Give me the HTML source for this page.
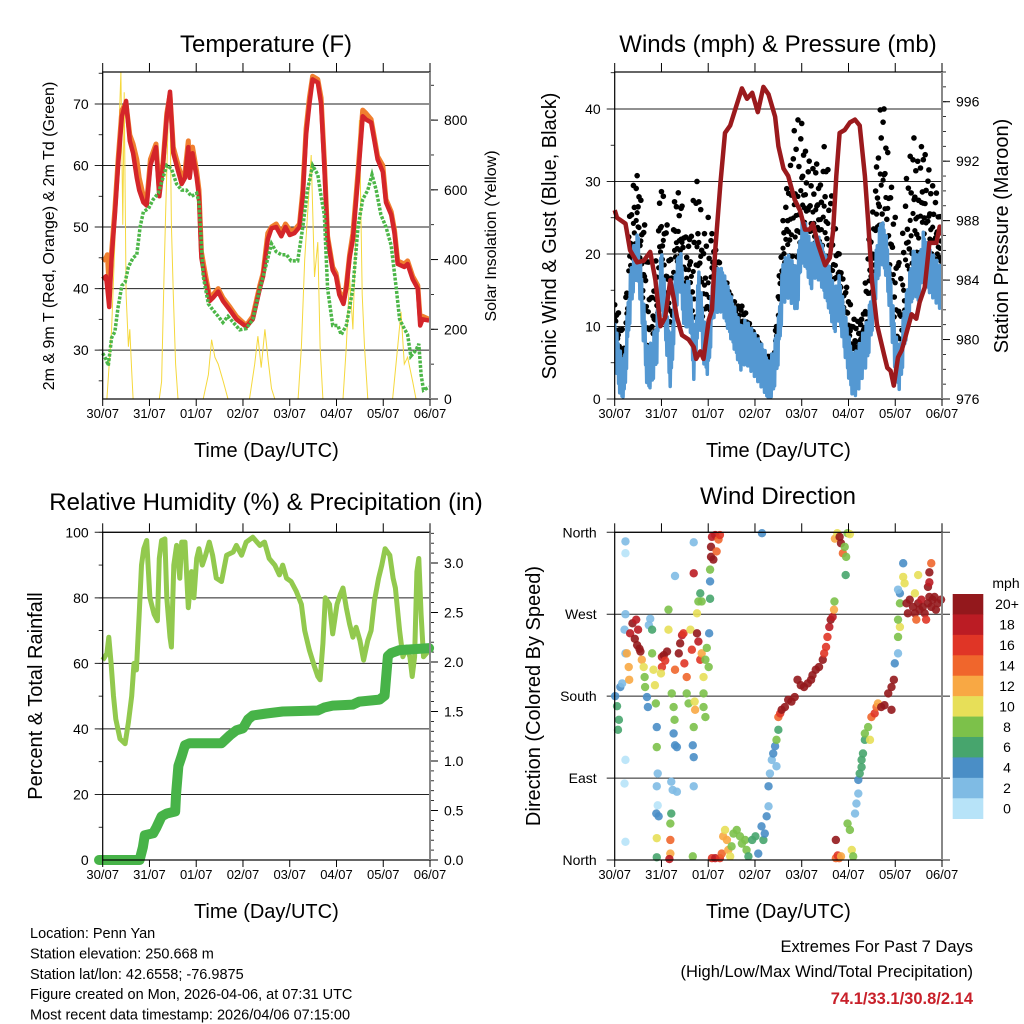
<!DOCTYPE html>
<html><head><meta charset="utf-8">
<style>
html,body{margin:0;padding:0;background:#fff;}
svg{display:block;font-family:"Liberation Sans",Arial,sans-serif;}
</style></head>
<body>
<svg id="chart" width="1024" height="1024" viewBox="0 0 1024 1024" xmlns="http://www.w3.org/2000/svg">
<rect width="1024" height="1024" fill="#fff"/>
</svg>
<script>
// ===== Data (time in days since 30/07 00 UTC) =====
const dayLabels = ["30/07","31/07","01/07","02/07","03/07","04/07","05/07","06/07"];
const tempTicks = [30,40,50,60,70];
const solarTicks = [0,200,400,600,800];
const windTicks = [0,10,20,30,40];
const presTicks = [976,980,984,988,992,996];
const rhTicks = [0,20,40,60,80,100];
const rainTicks = [0.0,0.5,1.0,1.5,2.0,2.5,3.0];
const dirLabels = ["North","East","South","West","North"];
const dirTicks = [0,90,180,270,360];
const spdLabels = ["0","2","4","6","8","10","12","14","16","18","20+"];
const spdColors = ["#b7e3f8","#7fbbe4","#4a8ec6","#47a56d","#7cc14a","#e7df58","#f8a844","#f0662c","#e03526","#bb1c24","#93181c"];

const tDays = [0,0.07,0.10,0.14,0.19,0.26,0.33,0.41,0.50,0.58,0.65,0.73,0.78,0.87,0.94,1.02,1.14,1.21,1.29,1.37,1.44,1.51,1.58,1.69,1.76,1.83,1.86,1.92,2.01,2.06,2.11,2.18,2.29,2.36,2.47,2.57,2.72,2.86,3.07,3.21,3.36,3.43,3.53,3.61,3.71,3.82,3.91,4.00,4.10,4.21,4.28,4.35,4.42,4.49,4.60,4.67,4.74,4.81,4.92,4.99,5.06,5.15,5.21,5.28,5.35,5.46,5.56,5.63,5.74,5.81,5.88,5.99,6.06,6.17,6.24,6.31,6.45,6.52,6.63,6.74,6.79,6.84,6.98];
const tRed = [41.5,42,40,37,45,52,60,68,70.5,64,62,58,56,54,53.5,60,63,55,60,68,72,62,60,57,58,63,58,62,58,55,45,42,38,38.5,39.5,38,36.5,35,33.8,35,40,42,48,49.8,50,48.5,50,48.7,49,50,55,65,70,74,73.5,70,60,48,43,42,39,37.5,40,45,48,58,68,67.5,67,64,61,59,54,52,49,44,43.5,44,41.5,40,34,35,34.8];
const tOrange = [44.5,45,45.5,40,46,53,61,69,70,65,63.5,61,58,55,54,61,63.5,56,60.5,68.5,71.5,63,61,58,59,64,59,63,59,56,46,43,38.5,39,40,38.5,37,35.5,34,35.5,40.5,42.5,49,50,50.5,49,50.5,49.5,49.5,50.5,56,66,71,74.5,74,71,61,48.5,43.5,42.5,39.5,38,40.5,45.5,49,59,69,68.5,67.5,64.5,61.5,60,54.5,52.5,49.5,44.5,44,44.5,42,40.5,35,35.5,35];
const tdDays = [0,0.07,0.12,0.19,0.26,0.33,0.41,0.48,0.55,0.65,0.73,0.80,0.87,0.98,1.08,1.19,1.29,1.37,1.47,1.58,1.69,1.79,1.90,2.01,2.06,2.15,2.26,2.36,2.47,2.57,2.68,2.79,2.93,3.07,3.21,3.36,3.50,3.61,3.71,3.82,3.93,4.03,4.17,4.28,4.38,4.49,4.60,4.67,4.74,4.81,4.92,5.03,5.10,5.21,5.35,5.46,5.56,5.67,5.76,5.85,5.95,6.06,6.17,6.28,6.35,6.45,6.52,6.59,6.70,6.76,6.81,6.86,6.98];
const tDew = [29.5,28.5,27.5,32,33,37,40.5,41,43.5,45,45.5,50,52.5,53,54.5,55.5,58,60,59.5,57,56,56,55,55.5,54,42,37.5,36.5,35.5,34.5,35.5,34.5,33.3,33.5,35,40,44,47.3,46,45.5,45.5,44.5,44.5,50,56,60,58.5,55,52,40,34,34,32.5,34,40,50,54.5,56,58.5,56,52,50,47,40,35,33.5,32.5,29,30,31,26,23.5,24];
const solDays = [0.09,0.14,0.19,0.26,0.33,0.39,0.43,0.46,0.50,0.55,0.58,0.62,0.65,1.21,1.26,1.31,1.35,1.40,1.44,1.47,1.51,1.56,1.61,2.15,2.26,2.33,2.40,2.47,2.58,2.68,3.14,3.25,3.32,3.39,3.47,3.54,3.61,3.68,4.18,4.25,4.32,4.39,4.46,4.53,4.60,4.65,4.71,5.14,5.21,5.28,5.35,5.42,5.49,5.55,5.60,5.67,6.20,6.31,6.38,6.45,6.52,6.63,6.70];
const solVals = [0,100,200,450,700,938,500,880,300,150,200,80,0,0,50,350,550,800,850,500,300,100,0,0,70,170,120,100,50,0,0,100,180,90,200,110,30,0,0,150,400,550,700,350,450,150,0,0,150,350,200,500,800,300,150,0,0,150,250,100,120,50,0];

const wDays = [0,0.1,0.2,0.3,0.4,0.5,0.6,0.7,0.8,0.9,1.0,1.1,1.2,1.3,1.4,1.5,1.6,1.7,1.8,1.9,2.0,2.1,2.2,2.3,2.4,2.5,2.6,2.7,2.8,2.9,3.0,3.1,3.2,3.3,3.4,3.5,3.6,3.7,3.8,3.9,4.0,4.1,4.2,4.3,4.4,4.5,4.6,4.7,4.8,4.9,5.0,5.1,5.2,5.3,5.4,5.5,5.6,5.7,5.8,5.9,6.0,6.1,6.2,6.3,6.4,6.5,6.6,6.7,6.8,6.9,7.0];
const windSonic = [8,4,2,12,18,20,12,4,5,8,18,10,4,15,18,12,14,5,15,8,6,14,15,15,13,11,9,7,8,7,6,5,4,2,4,8,16,17,16,15,22,21,18,20,19,17,15,12,14,10,6,3,4,6,8,12,18,22,20,14,6,4,10,14,18,16,20,18,17,16,15];
const windGust = [13,12,8,24,30,31,26,21,14,21,31,25,20,29,29,23,22,30,30,22,26,22,20,17,16,14,13,13,12,10,9,8,6,6,6,15,25,30,35,40,38,34,32,33,30,36,30,25,20,16,15,11,11,11,20,25,32,43,38,30,26,17,28,34,36,33,36,32,30,28,24];
const pDays = [0,0.05,0.23,0.33,0.48,0.62,0.76,0.87,0.98,1.08,1.19,1.26,1.33,1.44,1.58,1.69,1.74,1.83,1.90,2.01,2.08,2.15,2.26,2.36,2.47,2.58,2.72,2.83,2.94,3.06,3.18,3.29,3.43,3.50,3.61,3.71,3.85,3.96,4.07,4.17,4.24,4.35,4.50,4.60,4.67,4.74,4.81,4.92,5.03,5.14,5.24,5.35,5.42,5.50,5.61,5.76,5.83,5.90,5.97,6.06,6.14,6.35,6.45,6.52,6.63,6.73,6.88,6.95,6.98];
const pressure = [988.7,988.2,987.8,986,985.2,985.3,985.9,984,980.9,981.5,984,982.8,981.5,980.3,980,979.5,978.7,979.2,978.7,981.3,982,986,990.5,993.9,994.4,995.5,996.9,996.2,996.6,995.3,997,996.5,995,993,991.5,991,989.4,988.7,987.4,987.4,987.8,986.4,985,985.5,987.3,991,993.9,994.1,994.6,994.8,994.4,991,988,984,981,979,978.1,977.9,976.9,978.8,979.3,981.7,981.4,982.5,983.5,986.5,986.5,987.6,987];

const rhDays = [0,0.09,0.13,0.18,0.23,0.28,0.37,0.48,0.55,0.62,0.67,0.72,0.78,0.83,0.88,0.94,1.01,1.10,1.17,1.21,1.26,1.33,1.37,1.44,1.47,1.52,1.58,1.65,1.69,1.76,1.83,1.90,1.95,2.01,2.06,2.13,2.20,2.28,2.35,2.43,2.54,2.65,2.79,2.86,2.97,3.07,3.21,3.36,3.46,3.56,3.68,3.78,3.85,3.93,4.03,4.14,4.25,4.32,4.42,4.53,4.60,4.65,4.71,4.76,4.85,4.92,5.01,5.08,5.14,5.21,5.28,5.35,5.42,5.50,5.58,5.67,5.74,5.81,5.90,5.97,6.04,6.14,6.21,6.26,6.35,6.42,6.50,6.57,6.62,6.67,6.72,6.76,6.81,6.86,6.98];
const rh = [61,63,68,60,50,43,37,35.5,42,50,60,58,75,90,95,97.5,80,75,73,92,97.5,98,80,68,65,90,96,86,97,97,77,88,80,92,95,90,93,97,93,86,85,93,94,96,93,97,98.5,96,97,92,90,87,90,86,85,82,78,70,64,59,56,55,66,80,78,69,78,81,83,77,72,68,71,67,61,67,70,79,86,90,95,93,86,83,70,62,65,62,56,62,88,92,75,62,64];
const rainDays = [-0.08,0.79,0.86,0.90,1.08,1.15,1.26,1.37,1.55,1.57,1.62,1.69,1.76,1.86,2.54,2.72,2.86,3.00,3.11,3.21,3.50,3.85,4.60,4.74,4.92,5.35,5.49,5.92,6.03,6.10,6.17,6.35,6.98];
const rain = [0,0,0.13,0.25,0.27,0.33,0.44,0.47,0.49,0.67,0.95,1.05,1.16,1.18,1.18,1.26,1.31,1.33,1.42,1.46,1.48,1.50,1.51,1.54,1.56,1.57,1.60,1.62,1.66,2.06,2.09,2.12,2.14];

const dirDay = [0.01,0.05,0.09,0.07,0.12,0.16,0.23,0.23,0.21,0.23,0.21,0.23,0.23,0.23,0.26,0.30,0.31,0.33,0.38,0.43,0.48,0.53,0.46,0.50,0.55,0.58,0.62,0.64,0.65,0.69,0.71,0.73,0.76,0.80,0.80,0.83,0.86,0.88,0.90,0.90,0.92,0.90,0.92,0.89,0.94,0.90,0.90,1.01,1.05,1.08,1.12,1.01,0.99,1.15,1.15,1.19,1.21,1.19,1.19,1.17,1.22,1.26,1.28,1.29,1.26,1.29,1.21,1.24,1.29,1.33,1.33,1.37,1.40,1.44,1.47,1.49,1.54,1.54,1.58,1.62,1.65,1.69,1.67,1.69,1.69,1.67,1.69,1.69,1.71,1.72,1.76,1.79,1.83,1.86,1.90,1.90,1.94,1.97,2.01,2.02,1.90,1.94,1.76,1.79,1.83,1.86,2.04,2.04,2.04,2.06,2.06,2.08,2.15,2.22,2.25,2.11,2.18,
2.08,2.15,2.25,2.29,2.32,2.36,2.40,2.43,2.47,2.50,2.54,2.61,2.68,2.72,2.79,2.82,2.86,2.94,3.01,3.07,3.14,3.18,3.21,3.25,3.15,3.29,3.29,3.32,3.36,3.39,3.43,3.46,3.46,3.50,3.50,3.54,3.57,3.64,3.71,3.78,3.85,3.91,3.98,4.05,4.13,4.20,4.23,4.30,4.37,4.45,4.48,4.52,4.55,4.59,4.62,4.66,4.69,4.70,4.71,4.76,4.81,4.84,4.88,4.92,4.95,4.94,4.98,5.03,4.73,4.80,4.77,4.73,4.84,4.98,5.03,5.07,5.10,5.14,5.17,5.21,5.21,5.24,5.28,5.28,5.31,5.35,5.35,5.42,5.46,5.49,5.56,5.60,5.63,5.70,5.77,5.85,5.92,5.97,5.92,5.99,6.06,6.06,6.10,6.06,6.10,6.10,6.06,6.17,6.17,6.20,6.24,6.27,6.31,6.38,6.42,6.45,6.49,6.52,6.56,6.59,6.63,6.66,6.70,6.73,6.77,6.80,6.84,6.87,6.91,6.98,6.73,6.77,6.49,6.42,6.70,6.73];
const dirDeg = [180,169,154,143,190,194,227,270,253,110,84,20,337,350,227,212,198,249,260,243,236,232,264,253,229,220,212,201,190,179,168,258,265,253,227,209,192,172,146,124,95,81,60,51,48,24,3,223,225,219,229,212,205,253,275,40,51,22,7,1,183,168,154,209,139,126,86,77,312,124,75,227,238,247,249,216,201,183,172,253,231,146,126,113,81,4,315,349,174,165,249,240,220,227,201,183,220,233,212,249,168,157,271,284,293,284,306,287,319,344,333,355,357,352,357,330,339,
2,2,2,7,26,33,22,11,4,15,29,33,26,18,22,11,4,22,26,7,37,22,29,48,359,59,81,95,110,117,125,103,132,143,157,161,165,168,176,174,179,198,192,190,194,198,203,209,212,220,227,234,245,256,264,267,275,284,353,359,355,348,337,344,333,313,359,358,2,2,5,22,4,40,33,11,4,51,62,73,88,95,102,110,117,132,139,146,132,157,161,168,172,168,170,183,190,198,165,216,227,245,256,264,282,293,297,326,311,304,282,271,286,278,271,264,282,275,286,278,271,264,282,289,278,286,289,275,282,286,316,326,313,293,300,305];
const dirSpd = [5,6,6,6,4,3,2,3,2,1,1,1,0,2,12,13,12,19,20,20,20,20,18,18,20,12,10,8,8,5,5,3,3,6,8,10,10,8,4,8,2,3,1,4,4,10,6,19,20,17,20,16,10,10,8,8,6,14,12,18,8,8,8,14,4,4,3,3,2,4,3,20,20,18,16,16,14,8,8,10,16,8,4,4,2,8,18,2,10,12,20,18,16,12,10,8,8,8,8,4,8,8,10,8,6,8,4,6,8,20,20,18,18,14,16,20,14,
16,18,16,14,12,10,12,12,10,8,8,8,8,8,8,8,6,6,6,4,4,6,4,4,4,2,4,2,2,4,4,2,8,6,14,16,20,20,20,20,20,20,20,20,20,20,20,20,20,20,16,16,16,18,20,18,12,8,12,10,20,20,14,8,8,6,8,10,14,14,16,20,12,8,8,10,8,2,2,2,4,6,6,6,6,6,8,8,10,14,16,14,12,20,20,20,20,20,20,4,2,8,10,8,8,4,2,4,10,10,20,20,20,20,20,14,20,20,18,20,20,16,20,20,20,20,20,20,20,20,20,14,10,10,20,18];

// ===== Helpers =====
const NS = "http://www.w3.org/2000/svg";
const svg = document.getElementById("chart");
function mk(tag, attrs, parent){
  const e = document.createElementNS(NS, tag);
  for (const k in attrs) e.setAttribute(k, attrs[k]);
  (parent||svg).appendChild(e);
  return e;
}
function txt(s, x, y, size, anchor, parent, extra){
  const t = mk("text", Object.assign({x:x, y:y, "font-size":size, "text-anchor":anchor||"middle", fill:"#000"}, extra||{}), parent);
  t.textContent = s;
  return t;
}
function linScale(d0,d1,r0,r1){ return v => r0 + (v-d0)/(d1-d0)*(r1-r0); }

function panel(name, x0, y0, w, h){
  const g = mk("g", {});
  
  
  return {g, x0, y0, w, h, x: linScale(0,7,x0,x0+w)};
}
function frame(p){
  const f = mk("rect",{x:p.x0,y:p.y0,width:p.w,height:p.h,fill:"none",stroke:"#000","stroke-width":1.2}, p.g);
  
  
  const rr = mk("line",{x1:p.x0+p.w,y1:p.y0,x2:p.x0+p.w,y2:p.y0+p.h,stroke:"#888","stroke-width":2}, p.g);
  
  
}
function xAxis(p){
  const ax = mk("g",{}, p.g);
  
  
  dayLabels.forEach((lab,i)=>{
    const xx = p.x(i);
    mk("line",{x1:xx,y1:p.y0,x2:xx,y2:p.y0-9,stroke:"#000","stroke-width":1}, ax);
    mk("line",{x1:xx,y1:p.y0+p.h,x2:xx,y2:p.y0+p.h+7,stroke:"#000","stroke-width":1}, ax);
    const t = txt(lab, xx, p.y0+p.h+19, 13, "middle", ax);
    
    
  });
  const tt = txt("Time (Day/UTC)", p.x0+p.w/2, p.y0+p.h+58, 20, "middle", p.g);
  
  
}
function leftAxis(p, ys, ticks, fmt, grid, minorStep, dmin, dmax){
  const ax = mk("g",{}, p.g);
  
  
  if (minorStep){
    for (let v=Math.ceil(dmin/minorStep)*minorStep; v<=dmax+1e-9; v+=minorStep){
      mk("line",{x1:p.x0,y1:ys(v),x2:p.x0-4,y2:ys(v),stroke:"#000","stroke-width":0.8}, ax);
    }
  }
  ticks.forEach(v=>{
    const yy = ys(v);
    if (grid) mk("line",{x1:p.x0-8,y1:yy,x2:p.x0+p.w,y2:yy,stroke:"#222","stroke-width":1}, ax);
    const t = txt(fmt(v), p.x0-14, yy+5, 14, "end", ax);
    
    
  });
}
function rightAxis(p, ys, ticks, fmt, minorStep, dmin, dmax){
  const ax = mk("g",{}, p.g);
  
  
  const xr = p.x0+p.w;
  if (minorStep){
    for (let v=Math.ceil(dmin/minorStep)*minorStep; v<=dmax+1e-9; v+=minorStep){
      mk("line",{x1:xr,y1:ys(v),x2:xr+4,y2:ys(v),stroke:"#000","stroke-width":0.8}, ax);
    }
  }
  ticks.forEach(v=>{
    const yy = ys(v);
    mk("line",{x1:xr,y1:yy,x2:xr+8,y2:yy,stroke:"#000","stroke-width":1}, ax);
    const t = txt(fmt(v), xr+14, yy+5, 14, "start", ax);
    
    
  });
}
function vtitle(s, x, y, size, parent, name){
  const t = txt(s, 0, 0, size, "middle", parent, {transform:`translate(${x},${y}) rotate(-90)`});
  
  
}
function pathD(xs, ys, xf, yf){
  return xs.map((d,i)=>(i?"L":"M")+xf(d).toFixed(1)+","+yf(ys[i]).toFixed(1)).join("");
}
function interp(xs, vs, d){
  if (d<=xs[0]) return vs[0];
  for (let i=1;i<xs.length;i++){ if (d<=xs[i]){ const f=(d-xs[i-1])/(xs[i]-xs[i-1]); return vs[i-1]+f*(vs[i]-vs[i-1]); } }
  return vs[vs.length-1];
}

// ===== Titles =====
[["Temperature (F)",266,52],["Winds (mph) & Pressure (mb)",778,52],["Relative Humidity (%) & Precipitation (in)",266,510],["Wind Direction",778,504]].forEach((a,i)=>{
  const t = txt(a[0], a[1], a[2], 24, "middle");
  
  
});

// ===== Panel 1: Temperature =====
(function(){
  const p = panel("temperature-panel", 102.7, 72, 327.3, 327);
  const yT = linScale(22.05, 75.2, 399, 72);
  const yS = linScale(0, 938, 399, 72);
  leftAxis(p, yT, tempTicks, v=>String(v), true, 5, 22.05, 75.2);
  rightAxis(p, yS, solarTicks, v=>String(v), 100, 0, 938);
  const clip = mk("clipPath",{id:"c1"}, p.g); mk("rect",{x:p.x0,y:p.y0,width:p.w,height:p.h}, clip);
  const s = mk("path",{d:pathD(solDays, solVals, p.x, yS), fill:"none", stroke:"#f5d83c","stroke-width":1, "clip-path":"url(#c1)"}, p.g);
  
  
  const o = mk("path",{d:pathD(tDays, tOrange, p.x, yT), fill:"none", stroke:"#f07f2f","stroke-width":5,"stroke-linejoin":"round"}, p.g);
  
  
  const r = mk("path",{d:pathD(tDays, tRed, p.x, yT), fill:"none", stroke:"#d4252a","stroke-width":4.5,"stroke-linejoin":"round"}, p.g);
  
  
  const gd = mk("path",{d:pathD(tdDays, tDew, p.x, yT), fill:"none", stroke:"#4cb648","stroke-width":3.5,"stroke-dasharray":"3 1.5"}, p.g);
  
  
  frame(p); xAxis(p);
  vtitle("2m & 9m T (Red, Orange) & 2m Td (Green)", 54, 236, 16, p.g, "temperature-y-title");
  vtitle("Solar Insolation (Yellow)", 496, 236, 16, p.g, "solar-y-title");
})();

// ===== Panel 2: Winds =====
(function(){
  const p = panel("winds-panel", 614.7, 72, 327.3, 327);
  const yW = linScale(0, 45.1, 399, 72);
  const yP = linScale(976, 998, 399, 72);
  leftAxis(p, yW, windTicks, v=>String(v), true, 5, 0, 45.1);
  rightAxis(p, yP, presTicks, v=>String(v), 1, 976, 998);
  const clip = mk("clipPath",{id:"c2"}, p.g); mk("rect",{x:p.x0,y:p.y0,width:p.w,height:p.h}, clip);
  const gg = mk("g",{"clip-path":"url(#c2)"}, p.g);
  
  
  // gust cloud: dots scattered between sonic speed and gust max
  let k = 0;
  for (let d=0; d<=7; d+=0.02){
    const top = interp(wDays, windGust, d), bot = interp(wDays, windSonic, d)+1;
    const frac = [1,0.55,0.8,0.3,0.95,0.65,0.15,0.85][k%8];
    k++;
    const c = mk("circle",{cx:p.x(d), cy:yW(bot+(top-bot)*frac), r:2.8, fill:"#000"}, gg);
    
    
    const c2 = mk("circle",{cx:p.x(d), cy:yW(bot+(top-bot)*frac*0.5), r:2.6, fill:"#000"}, gg);
    
    
  }
  // sonic wind: jagged band around the series
  let dd = "", j = 0;
  for (let d=0; d<=7.0001; d+=0.012){
    const v = interp(wDays, windSonic, d) + [2.5,-2.5,1,-3,3,-1][j%6];
    j++;
    dd += (dd ? "L" : "M") + p.x(d).toFixed(1) + "," + yW(Math.max(0.3,v)).toFixed(1);
  }
  const bl = mk("path",{d:dd, fill:"none", stroke:"#5498d2","stroke-width":3.5,"stroke-linejoin":"round","clip-path":"url(#c2)"}, p.g);
  
  
  const pr = mk("path",{d:pathD(pDays, pressure, p.x, yP), fill:"none", stroke:"#9b1a1d","stroke-width":4.5,"stroke-linejoin":"round"}, p.g);
  
  
  frame(p); xAxis(p);
  vtitle("Sonic Wind & Gust (Blue, Black)", 556, 236, 20, p.g, "wind-y-title");
  vtitle("Station Pressure (Maroon)", 1008, 236, 20, p.g, "pressure-y-title");
})();

// ===== Panel 3: RH & rain =====
(function(){
  const p = panel("humidity-panel", 102.7, 532.3, 327.3, 327.7);
  const yR = linScale(0, 100, 860, 532.3);
  const yIn = linScale(0, 3.31, 860, 532.3);
  leftAxis(p, yR, rhTicks, v=>String(v), true, 10, 0, 100);
  rightAxis(p, yIn, rainTicks, v=>v.toFixed(1), 0.1, 0, 3.3);
  const h = mk("path",{d:pathD(rhDays, rh, p.x, yR), fill:"none", stroke:"#92c94e","stroke-width":5,"stroke-linejoin":"round"}, p.g);
  
  
  const rn = mk("path",{d:pathD(rainDays, rain, p.x, yIn), fill:"none", stroke:"#47b348","stroke-width":10,"stroke-linejoin":"round","stroke-linecap":"round"}, p.g);
  
  
  frame(p); xAxis(p);
  vtitle("Percent & Total Rainfall", 42, 696, 20, p.g, "humidity-y-title");
})();

// ===== Panel 4: Wind direction =====
(function(){
  const p = panel("wind-direction-panel", 614.7, 532.3, 327.3, 327.7);
  const yD = linScale(0, 360, 860, 532.3);
  const ax = mk("g",{}, p.g);
  
  
  dirTicks.forEach((v,i)=>{
    const yy = yD(v);
    mk("line",{x1:p.x0-8,y1:yy,x2:p.x0+p.w+8,y2:yy,stroke:"#222","stroke-width":1}, ax);
    const t = txt(dirLabels[i], p.x0-18, yy+5, 14, "end", ax);
    
    
  });
  const pts = mk("g",{"fill-opacity":0.9}, p.g);
  
  
  dirDay.forEach((d,i)=>{
    const bin = Math.min(10, Math.max(0, Math.floor(dirSpd[i]/2)));
    const c = mk("circle",{cx:p.x(d), cy:yD(dirDeg[i]), r:4.2, fill:spdColors[bin]}, pts);
    
    
  });
  frame(p); xAxis(p);
  vtitle("Direction (Colored By Speed)", 540, 696, 20, p.g, "direction-y-title");
  const lg = mk("g",{}, svg);
  
  
  const t0 = txt("mph", 1006, 588, 14, "middle", lg);
  
  
  const bh = (818.7-594)/spdColors.length;
  for (let k=0;k<spdColors.length;k++){
    const idx = spdColors.length-1-k;
    const r = mk("rect",{x:952.7,y:594+k*bh,width:30.6,height:bh+0.3,fill:spdColors[idx]}, lg);
    
    
    const t = txt(spdLabels[idx], 1007, 594+k*bh+bh/2+5, 14, "middle", lg);
    
    
  }
})();

// ===== Footer =====
["Location: Penn Yan","Station elevation: 250.668 m","Station lat/lon: 42.6558; -76.9875","Figure created on Mon, 2026-04-06, at 07:31 UTC","Most recent data timestamp: 2026/04/06 07:15:00"].forEach((s,i)=>{
  const t = txt(s, 30, 938+i*20.4, 14.5, "start");
  
  
});
const e1 = txt("Extremes For Past 7 Days", 973, 952, 16.5, "end");


const e2 = txt("(High/Low/Max Wind/Total Precipitation)", 973, 977, 16.5, "end");


const e3 = txt("74.1/33.1/30.8/2.14", 973, 1004, 16.5, "end", null, {fill:"#c8202a","font-weight":"bold"});


</script>
</body></html>
